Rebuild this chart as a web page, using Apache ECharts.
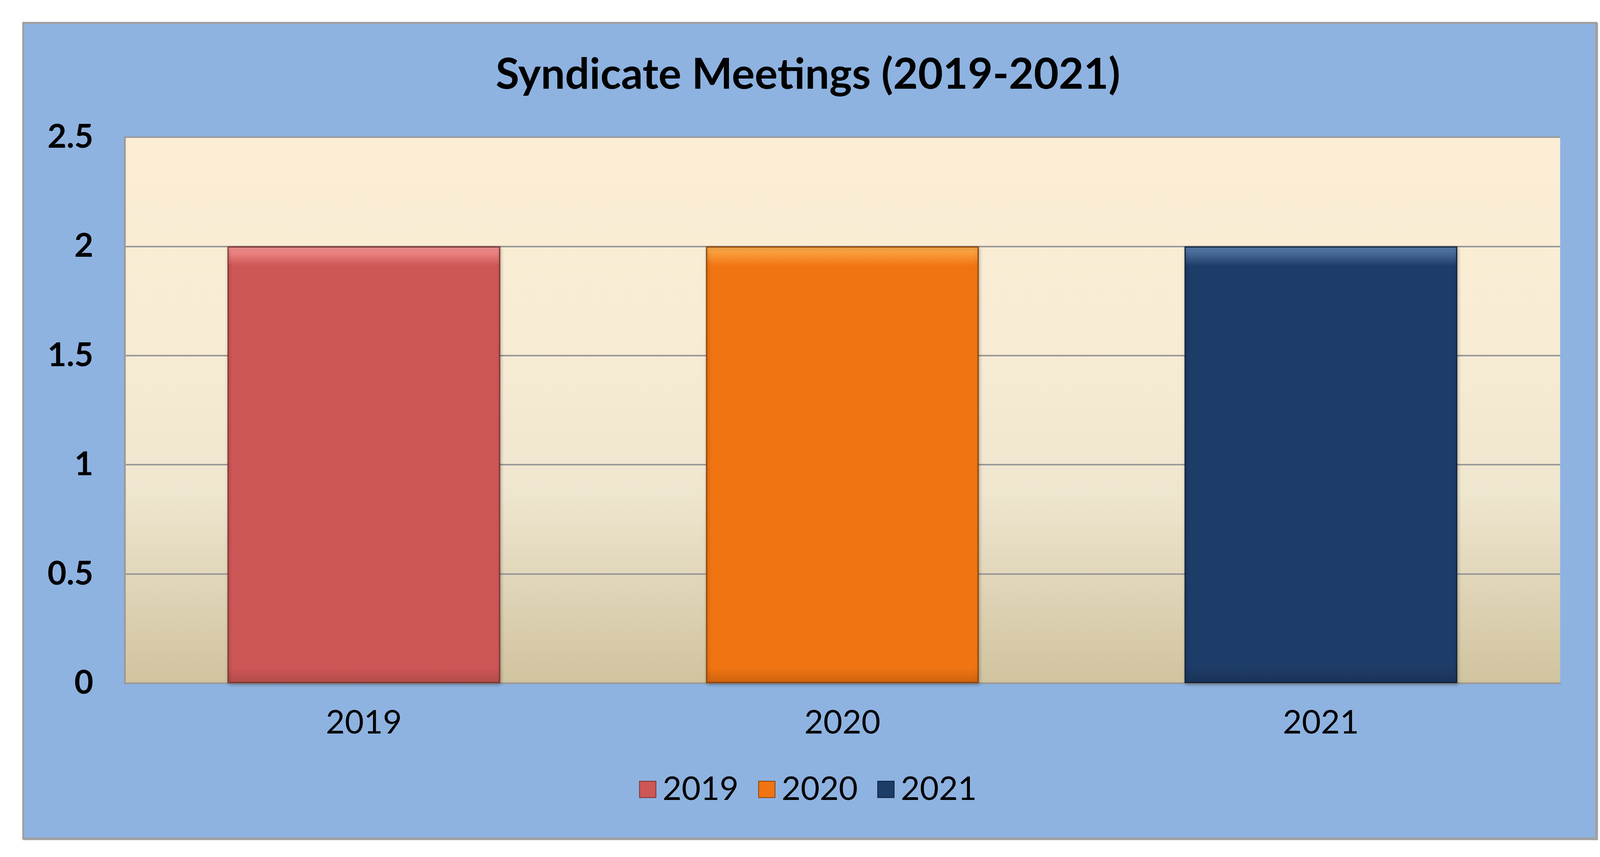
<!DOCTYPE html>
<html>
<head>
<meta charset="utf-8">
<script src="https://cdn.jsdelivr.net/npm/echarts@6/dist/echarts.min.js"></script>
<style>
  html, body { margin:0; padding:0; background:#ffffff; width:4137px; height:2193px; overflow:hidden; }
  #box { position:absolute; left:57px; top:56px; width:4022px; height:2082px; background:#8EB3E1; border:5px solid #A0A0A0; box-shadow:2px 2px 0 #a8a8a8; }
  #chart { position:absolute; left:0; top:0; width:4137px; height:2193px; }
</style>
</head>
<body>
<div id="box"></div>
<div id="chart"></div>
<script>
const titleText = 'Syndicate Meetings (2019-2021)';
const categories = ['2019', '2020', '2021'];
const seriesNames = ['2019', '2020', '2021'];
const values2019 = [2, '-', '-'];
const values2020 = ['-', 2, '-'];
const values2021 = ['-', '-', 2];
const yTicks = [0, 0.5, 1, 1.5, 2, 2.5];

const palette = [
  { top: '#F99896', main: '#CD5656', bottom: '#B14C4A', border: '#7A3433' },
  { top: '#FFB04E', main: '#F07412', bottom: '#CF630E', border: '#8A4308' },
  { top: '#5E82B0', main: '#1E3C68', bottom: '#193358', border: '#0F213A' }
];

function barStyle(p) {
  return {
    color: {
      type: 'linear', x: 0, y: 0, x2: 0, y2: 1,
      colorStops: [
        { offset: 0, color: p.top },
        { offset: 0.045, color: p.main },
        { offset: 0.965, color: p.main },
        { offset: 1, color: p.bottom }
      ]
    },
    borderColor: p.border,
    borderWidth: 3,
    shadowColor: 'rgba(0,0,0,0.25)',
    shadowBlur: 8,
    shadowOffsetX: 2,
    shadowOffsetY: 4
  };
}

const seriesValues = [values2019, values2020, values2021];
const series = seriesNames.map((name, i) => ({
  name: name,
  type: 'bar',
  stack: 'all',
  barWidth: '57%',
  data: seriesValues[i],
  itemStyle: barStyle(palette[i])
}));

const chart = echarts.init(document.getElementById('chart'), null, { renderer: 'canvas' });
chart.setOption({
  backgroundColor: 'transparent',
  animation: false,
  title: {
    text: titleText,
    left: 'center',
    top: 132,
    textStyle: { fontFamily: 'Lato', fontWeight: 'bold', fontSize: 110, color: '#000000' }
  },
  legend: {
    data: seriesNames,
    bottom: 126,
    left: 'center',
    itemWidth: 42,
    itemHeight: 42,
    itemGap: 50,
    icon: 'rect',
    textStyle: { fontFamily: 'Lato', fontSize: 84, color: '#000000', padding: [0, 0, 0, 12] }
  },
  grid: {
    left: 319, right: 143, top: 351, bottom: 445,
    show: true,
    borderWidth: 0,
    backgroundColor: {
      type: 'linear', x: 0, y: 0, x2: 0, y2: 1,
      colorStops: [
        { offset: 0, color: '#FCEED5' },
        { offset: 0.35, color: '#F8ECD4' },
        { offset: 0.65, color: '#EFE6CF' },
        { offset: 1, color: '#D0C39F' }
      ]
    }
  },
  xAxis: {
    type: 'category',
    data: categories,
    axisLine: { show: true, lineStyle: { color: '#9C9C9C', width: 5 } },
    axisTick: { show: false },
    axisLabel: { fontFamily: 'Lato', fontSize: 84, color: '#000000', margin: 60 }
  },
  yAxis: {
    type: 'value',
    min: 0,
    max: 2.5,
    interval: 0.5,
    axisLine: { show: true, lineStyle: { color: '#9C9C9C', width: 5 } },
    axisTick: { show: false },
    splitLine: { show: true, lineStyle: { color: '#9A9A9A', width: 4 } },
    axisLabel: {
      fontFamily: 'Lato', fontWeight: 'bold', fontSize: 84, color: '#000000', margin: 80,
      formatter: function (v) { return yTicks.indexOf(v) >= 0 ? String(v) : ''; }
    }
  },
  series: series
});
</script>
</body>
</html>
